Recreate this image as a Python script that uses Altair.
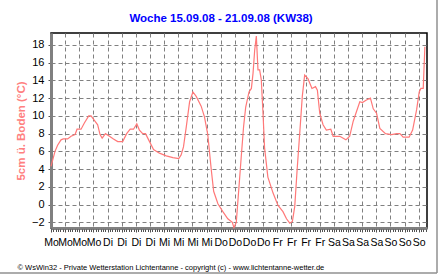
import json
import altair as alt
import pandas as pd

# ---- data (hours since Monday 00:00, soil temperature 5 cm above ground) ----
hours = [0, 1.7, 2.8, 4.25, 5.2, 7.05, 8.5, 10.2, 11.05, 12.75, 14.15, 16.0, 17.0, 18.4,
         19.8, 20.8, 21.7, 23.1, 24.8, 26.5, 28.3, 30.4, 32.1, 33.6, 35.0, 36.4, 37.5,
         38.9, 40.1, 41.8, 43.5, 46.0, 48.9, 51.7, 54.2, 55.2, 56.2, 57.4, 58.8, 60.2,
         61.6, 63.7, 65.1, 66.5, 68.0, 69.0, 70.8, 72.9, 75.0, 76.9, 77.6, 78.6, 79.6,
         80.7, 81.7, 82.6, 84.0, 85.0, 85.7, 86.4, 87.1, 87.8, 88.5, 89.2, 89.9, 90.6,
         92.0, 94.2, 96.3, 98.4, 99.9, 101.3, 102.4, 103.4, 104.4, 105.5, 106.6, 107.6,
         109.0, 110.7, 112.2, 113.0, 114.0, 115.4, 116.8, 118.7, 119.7, 122.5, 125.1,
         126.7, 128.2, 129.6, 131.0, 132.1, 133.8, 135.5, 136.7, 138.1, 139.5, 141.9,
         144.5, 146.6, 148.0, 149.4, 151.9, 153.4, 155.1, 156.2, 156.9, 157.9, 158.6]
temps = [4.3, 6.0, 6.7, 7.3, 7.4, 7.4, 7.7, 7.9, 8.5, 8.5, 9.2, 10.0, 10.0, 9.5,
         9.0, 7.9, 7.5, 8.0, 7.7, 7.4, 7.1, 7.1, 8.0, 8.5, 8.5, 9.1, 8.4,
         8.0, 8.0, 7.1, 6.2, 5.8, 5.5, 5.3, 5.2, 5.6, 6.5, 8.8, 11.6, 12.7,
         12.2, 11.1, 9.9, 7.9, 3.9, 1.5, 0.1, -0.8, -1.6, -2.0, -2.6, -2.0, 1.5,
         5.4, 8.8, 11.0, 12.7, 13.1, 14.8, 17.4, 19.0, 15.2, 15.2, 14.1, 10.5, 6.4,
         3.1, 1.3, -0.1, -0.8, -1.6, -2.1, -1.9, -0.2, 3.9, 8.0, 12.2, 14.6,
         14.2, 13.1, 13.3, 12.9, 10.3, 9.0, 8.4, 8.5, 7.7, 7.7, 7.3,
         7.7, 9.4, 10.5, 11.6, 11.5, 11.8, 12.0, 10.8, 10.3, 8.6, 8.0,
         7.9, 8.0, 8.0, 7.6, 7.6, 8.4, 10.7, 12.7, 13.1, 13.1, 17.8]
days = ["Mo", "Di", "Mi", "Do", "Fr", "Sa", "So"]
y_ticks = [-2, 0, 2, 4, 6, 8, 10, 12, 14, 16, 18]
x_ticks = list(range(0, 160, 6))
x_minor = list(range(0, 160, 1))

title_text = "Woche 15.09.08 - 21.09.08 (KW38)"
y_title = "5cm ü. Boden (°C)"
footer = "© WsWin32  -  Private Wetterstation Lichtentanne  -  copyright (c) - www.lichtentanne-wetter.de"

df = pd.DataFrame({"h": hours, "t": temps})
FONT = "Liberation Sans"
GRID = "#808080"

xscale = alt.Scale(domain=[0, 159.5], nice=False, zero=False)
yscale = alt.Scale(domain=[-2.64, 19.35], nice=False, zero=False)

label_expr = json.dumps(days) + "[floor(datum.value / 24)]"

y_enc = alt.Y("t:Q", scale=yscale, axis=alt.Axis(
    values=y_ticks, labelFont=FONT, labelFontSize=11, labelColor="black",
    labelPadding=4, tickSize=3, tickColor="#505050",
    domainColor=GRID, domainWidth=3,
    grid=True, gridColor=GRID, gridDash=[4, 3], gridWidth=1,
    title=y_title, titleFont=FONT, titleFontSize=11.5, titleFontWeight="bold",
    titleColor="#FF8080", titleAngle=270, titleX=-30, titleY=97.5,
    titleAlign="center", titleBaseline="middle"))

line = alt.Chart(df).mark_line(color="#FF7878", strokeWidth=1.2).encode(
    x=alt.X("h:Q", scale=xscale, axis=alt.Axis(
        orient="bottom", values=x_ticks, labelExpr=label_expr,
        labelOverlap=False, labelBound=False, labelFlush=False,
        labelFont=FONT, labelFontSize=10.5, labelColor="black",
        labelPadding=5, labelBaseline="top",
        tickSize=4, tickColor="#505050",
        domainColor=GRID, domainWidth=3,
        grid=True, gridColor=GRID, gridDash=[4, 3], gridWidth=1,
        title=footer, titleFont=FONT, titleFontSize=7.5, titleFontWeight="normal",
        titleColor="black", titleAnchor="start", titleAlign="left",
        titleX=-34, titleY=41, titleBaseline="alphabetic")),
    y=y_enc,
)

minor = alt.Chart(df).mark_line(strokeOpacity=0).encode(
    x=alt.X("h:Q", scale=xscale, axis=alt.Axis(
        orient="bottom", values=x_minor, labels=False, grid=False, domain=False,
        tickSize=2.5, tickColor="#505050", title=None, offset=1)),
    y=y_enc,
)

frame = alt.Chart(pd.DataFrame({"a": [0]}))
frame_r = frame.mark_rule(color="#909090", strokeWidth=1.5).encode(
    x=alt.value(386), y=alt.value(-33), y2=alt.value(240))
frame_b = frame.mark_rule(color="#909090", strokeWidth=1.5).encode(
    x=alt.value(-51), x2=alt.value(386), y=alt.value(240))

chart = alt.layer(line, minor, frame_r, frame_b).resolve_axis(x="independent").properties(
    width=376, height=195,
    autosize=alt.AutoSizeParams(type="none"),
    padding={"left": 51, "top": 33, "right": 13, "bottom": 46},
    background="white",
    title=alt.TitleParams(title_text, color="#0000FF", font=FONT, fontSize=11.5,
                          fontWeight="bold", anchor="middle", dx=-18, offset=0, dy=25),
).configure_view(stroke="black", strokeWidth=1.5)

chart.save("out.html", embed_options={"renderer": "svg", "actions": False})
